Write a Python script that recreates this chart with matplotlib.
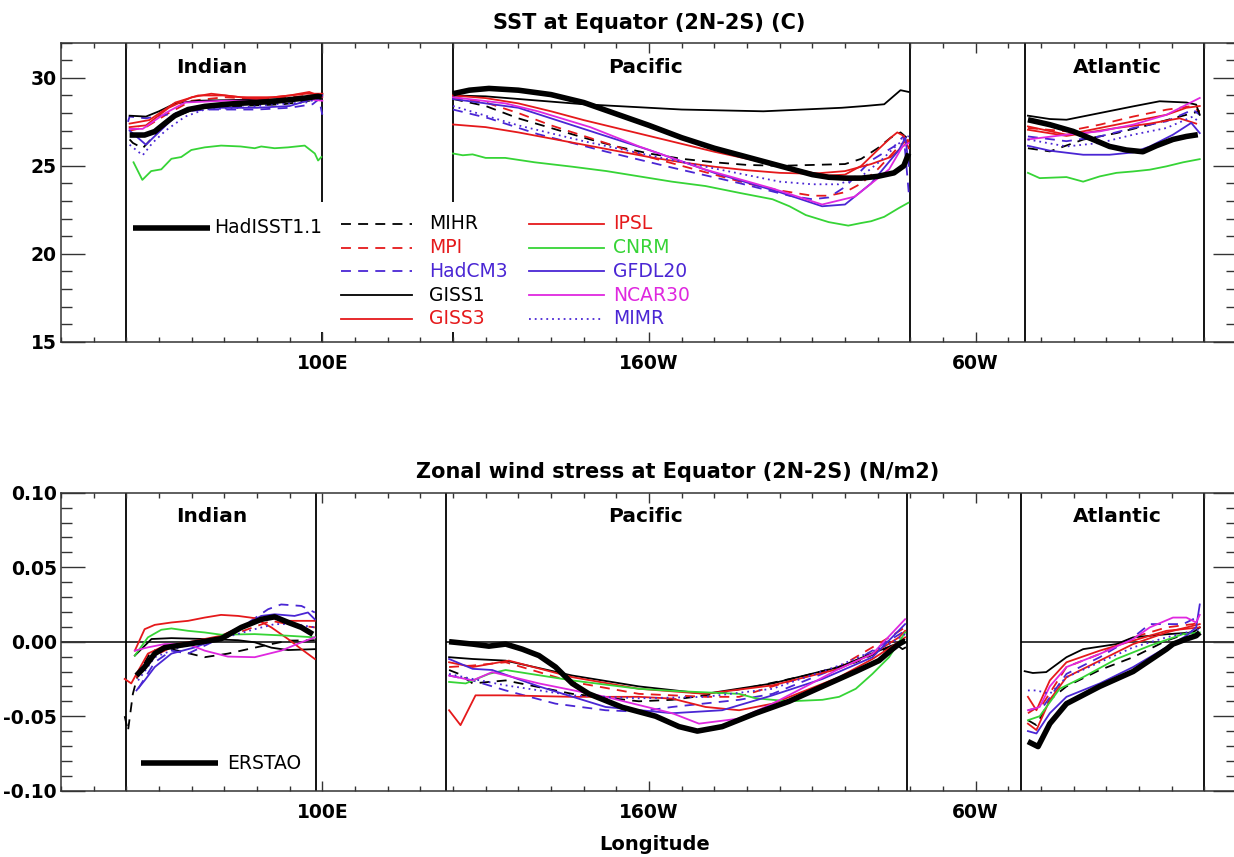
import matplotlib
matplotlib.use("Agg")
import matplotlib.pyplot as plt
import matplotlib.transforms as mtransforms
from matplotlib.ticker import MultipleLocator, FixedLocator
from matplotlib.patches import Rectangle

plt.rcParams['font.family'] = ['DejaVu Sans']

# ------------------------------------------------------------------ data
SST_BOUNDS = [40, 100, 140, 280, 315, 370]
TAU_BOUNDS = [40, 98, 138, 279, 314, 370]
TAU_ZERO_SEGMENTS = [(20, 98), (138, 279), (314, 380)]

XTICKS = [100, 200, 300]
XTICK_LABELS = ['100E', '160W', '60W']
SST_YTICKS = [15, 20, 25, 30]
SST_YTICK_LABELS = ['15', '20', '25', '30']
TAU_YTICKS = [-0.10, -0.05, 0.00, 0.05, 0.10]
TAU_YTICK_LABELS = ['-0.10', '-0.05', '0.00', '0.05', '0.10']

BASINS = ['Indian', 'Pacific', 'Atlantic']
BASIN_LABEL_LON = [66, 199, 343.5]

MODELS_COL1 = ['MIHR', 'MPI', 'HadCM3', 'GISS1', 'GISS3']
MODELS_COL2 = ['IPSL', 'CNRM', 'GFDL20', 'NCAR30', 'MIMR']

# SST (deg C): (longitudes, values)
SST_INDIAN = {
    'HadISST1.1': ([41, 45.6, 48.7, 51.7, 54.8, 58.9, 64, 69, 74.2, 79.3, 84.4, 89.5, 94.6, 98.7, 99.8],
                   [26.75, 26.75, 26.95, 27.4, 27.85, 28.2, 28.38, 28.47, 28.55, 28.6, 28.65, 28.75, 28.85, 28.95, 28.9]),
    'MIHR': ([41, 42, 45, 48, 51, 55, 62, 75, 88, 96, 100],
             [26.5, 26.3, 26.0, 26.6, 27.2, 27.8, 28.3, 28.4, 28.5, 28.7, 29.0]),
    'MPI': ([41, 46, 53, 60, 70, 80, 90, 97, 100],
            [27.0, 27.2, 28.0, 28.7, 28.9, 28.8, 28.9, 29.0, 28.5]),
    'HadCM3': ([40.5, 41, 46, 52, 58, 65, 80, 90, 97, 99, 100],
               [27.5, 27.8, 27.7, 27.9, 28.1, 28.2, 28.2, 28.3, 28.5, 28.8, 27.9]),
    'GISS1': ([41, 46, 50, 55, 62, 75, 90, 97, 100],
              [27.85, 27.8, 28.1, 28.55, 28.7, 28.75, 28.8, 28.9, 29.1]),
    'GISS3': ([41, 46, 53, 60, 66, 75, 85, 95, 100],
              [27.2, 27.3, 28.3, 28.9, 29.1, 28.9, 28.9, 29.1, 29.1]),
    'IPSL': ([41, 47, 55, 62, 70, 80, 90, 96, 100],
             [27.4, 27.6, 28.6, 29.0, 29.0, 28.8, 29.0, 29.2, 28.9]),
    'CNRM': ([42.2, 44.9, 47.6, 50.7, 53.8, 56.8, 59.9, 64, 69, 75, 79.3, 81.3, 85.4, 89.5, 94.6, 97.7, 98.7, 99.7],
             [25.2, 24.2, 24.7, 24.8, 25.4, 25.5, 25.9, 26.05, 26.15, 26.1, 26.0, 26.1, 26.0, 26.05, 26.15, 25.7, 25.3, 25.5]),
    'GFDL20': ([41, 46, 51, 56, 62, 80, 90, 97, 100],
               [27.0, 26.2, 27.1, 28.0, 28.3, 28.3, 28.4, 28.8, 29.0]),
    'NCAR30': ([41, 45, 52, 58, 70, 85, 95, 100],
               [27.1, 27.1, 28.0, 28.6, 28.7, 28.7, 28.8, 28.7]),
    'MIMR': ([41, 45, 48, 52, 58, 64, 75, 85, 95, 100],
             [26.2, 25.6, 26.3, 27.0, 27.8, 28.2, 28.3, 28.5, 28.6, 28.9]),
}

SST_PACIFIC = {
    'HadISST1.1': ([140, 145, 151, 160, 170, 180, 190, 200, 210, 220, 230, 240, 250, 255, 260, 265, 270, 275, 278, 279.5],
                   [29.1, 29.3, 29.4, 29.3, 29.05, 28.6, 27.95, 27.3, 26.6, 26.0, 25.5, 25.0, 24.5, 24.35, 24.3, 24.3, 24.4, 24.6, 25.0, 25.7]),
    'MIHR': ([140, 150, 160, 170, 180, 190, 200, 210, 220, 230, 240, 250, 260, 265, 270, 274, 277, 279.5],
             [28.8, 28.4, 27.7, 27.15, 26.6, 26.1, 25.7, 25.4, 25.2, 25.05, 25.0, 25.05, 25.1, 25.4, 26.0, 26.6, 26.9, 26.5]),
    'MPI': ([140, 150, 160, 170, 180, 190, 200, 210, 220, 230, 240, 250, 255, 260, 265, 270, 274, 277, 279.5],
            [28.9, 28.6, 28.0, 27.3, 26.7, 26.1, 25.5, 25.0, 24.5, 24.0, 23.6, 23.3, 23.3, 23.5, 24.0, 24.8, 25.6, 26.2, 26.5]),
    'HadCM3': ([140, 151, 166, 187, 207, 228, 243, 250, 255, 260, 268, 275, 278, 279.5],
               [28.2, 27.7, 26.8, 25.8, 24.9, 24.0, 23.3, 23.1, 23.2, 23.8, 25.3, 26.1, 26.7, 23.5]),
    'GISS1': ([140, 150, 160, 180, 200, 210, 235, 259, 266, 272, 277, 279.5],
              [29.0, 28.95, 28.8, 28.5, 28.3, 28.2, 28.1, 28.3, 28.4, 28.5, 29.3, 29.2]),
    'GISS3': ([140, 150, 160, 170, 180, 190, 200, 210, 220, 230, 240, 250, 260, 268, 274, 279.5],
              [27.35, 27.2, 26.9, 26.55, 26.2, 25.85, 25.5, 25.2, 24.95, 24.75, 24.6, 24.55, 24.7, 25.1, 25.5, 26.4]),
    'IPSL': ([140, 150, 160, 170, 180, 190, 200, 210, 220, 230, 240, 250, 255, 260, 265, 270, 274, 276, 278, 279.5],
             [29.0, 28.85, 28.55, 28.1, 27.6, 27.15, 26.7, 26.25, 25.8, 25.4, 25.0, 24.6, 24.45, 24.5, 25.0, 25.9, 26.6, 26.9, 26.7, 26.0]),
    'CNRM': ([140, 143, 146, 150, 156, 165, 176.5, 187, 197, 207, 217.3, 228, 237.8, 243, 248, 255, 261, 265, 268, 272, 276.5, 279.4],
             [25.7, 25.6, 25.65, 25.45, 25.45, 25.2, 24.95, 24.7, 24.4, 24.1, 23.85, 23.45, 23.1, 22.7, 22.2, 21.8, 21.6, 21.75, 21.85, 22.1, 22.6, 22.9]),
    'GFDL20': ([140, 160, 180, 200, 220, 240, 253, 260, 268, 276.5, 278.5, 279.5],
               [28.8, 28.3, 27.1, 25.9, 24.6, 23.5, 22.7, 22.8, 24.0, 25.9, 26.6, 25.0]),
    'NCAR30': ([140, 156, 166, 182, 197, 217, 238, 253, 263, 273.5, 277.6, 279.5],
               [28.9, 28.55, 28.1, 27.2, 26.1, 24.8, 23.7, 22.8, 23.25, 24.8, 26.1, 26.3]),
    'MIMR': ([140, 160, 180, 200, 220, 240, 250, 258, 265, 271, 276, 279.5],
             [28.4, 27.3, 26.4, 25.6, 24.85, 24.1, 23.95, 23.95, 24.4, 25.3, 26.2, 26.7]),
}

SST_ATLANTIC = {
    'HadISST1.1': ([316, 322.7, 329.8, 335.9, 341, 346.1, 351.2, 355.3, 360.4, 364.5, 368],
                   [27.62, 27.34, 26.96, 26.5, 26.1, 25.9, 25.8, 26.14, 26.5, 26.67, 26.77]),
    'GISS1': ([316, 322.7, 327.8, 338, 348.2, 356.3, 364.5, 367.5, 368.6],
              [27.85, 27.66, 27.62, 28.0, 28.38, 28.67, 28.6, 28.48, 27.9]),
    'MPI': ([316, 327.8, 338, 348.2, 358.4, 365.5, 368.6],
            [27.15, 26.96, 27.34, 27.8, 28.19, 28.38, 28.1]),
    'IPSL': ([316, 327.8, 338, 348.2, 358.4, 364.5, 368.6],
             [27.24, 26.77, 27.15, 27.53, 27.9, 28.3, 28.4]),
    'GISS3': ([316, 327.8, 343.1, 353.3, 362.4, 367.5],
              [27.05, 26.7, 27.15, 27.4, 27.7, 27.4]),
    'NCAR30': ([316, 327.8, 338, 348.2, 358.4, 368.6],
               [26.5, 26.77, 26.96, 27.34, 27.9, 28.86]),
    'HadCM3': ([316, 327.8, 338, 348.2, 358.4, 366.5, 368.6],
               [26.67, 26.4, 26.67, 27.15, 27.53, 28.19, 27.9]),
    'MIHR': ([316, 322.7, 332.9, 343.1, 353.3, 364.5, 368.6],
             [26.0, 25.82, 26.49, 26.86, 27.34, 27.9, 28.1]),
    'MIMR': ([316, 327.8, 338, 348.2, 358.4, 366.5, 368.6],
             [26.5, 26.1, 26.3, 26.77, 27.15, 27.8, 27.44]),
    'GFDL20': ([316, 322.7, 332.9, 341, 348.2, 353.3, 360.4, 366, 368.6],
               [26.14, 25.86, 25.63, 25.63, 25.76, 26.1, 26.77, 27.44, 26.86]),
    'CNRM': ([316, 319.6, 327.8, 332.9, 338, 343.1, 348.2, 353.3, 358.4, 363.5, 368.6],
             [24.6, 24.3, 24.36, 24.1, 24.4, 24.6, 24.68, 24.78, 24.97, 25.2, 25.38]),
}

# Zonal wind stress (N/m2): (longitudes, values)
TAU_INDIAN = {
    'ERSTAO': ([43.1, 45.6, 48.7, 51.7, 58.9, 69, 75.2, 81.3, 85.4, 89.5, 93.6, 97.1],
               [-0.0227, -0.017, -0.008, -0.004, -0.0016, 0.002, 0.0096, 0.015, 0.0167, 0.013, 0.0096, 0.005]),
    'GISS1': ([42.6, 47.7, 53.8, 64, 74.2, 79.3, 84.4, 89.5, 97.7],
              [-0.0093, 0.0018, 0.0024, 0.0018, 0.001, -0.0004, -0.004, -0.0056, -0.005]),
    'MIHR': ([39.5, 40.5, 42, 43.6, 47.7, 53.8, 64, 71.1, 77.2, 84.4, 89.5, 97.7],
             [-0.05, -0.06, -0.035, -0.0216, -0.006, -0.005, -0.0104, -0.008, -0.005, -0.0016, 0.0007, 0.001]),
    'IPSL': ([42.6, 45.6, 48.7, 53.8, 58.9, 64, 69, 74.2, 79.3, 84.4, 89.5, 93.6, 97.7],
             [-0.006, 0.0084, 0.0113, 0.0129, 0.014, 0.0162, 0.018, 0.0173, 0.0158, 0.0096, 0.0018, -0.005, -0.0116]),
    'GISS3': ([39.5, 41.5, 43.1, 46.6, 51.7, 58.9, 69, 77.2, 83.4, 89.5, 97.7],
              [-0.025, -0.028, -0.0216, -0.008, -0.0027, -0.0004, 0.004, 0.0118, 0.0162, 0.014, 0.014]),
    'MPI': ([43.1, 47.7, 53.8, 64, 74.2, 84.4, 89.5, 97.7],
            [-0.024, -0.0104, -0.0038, 0.0007, 0.006, 0.014, 0.0118, 0.0096]),
    'CNRM': ([42.6, 46.6, 50.7, 53.8, 58.9, 64, 69, 79.3, 89.5, 97.7],
             [-0.0093, 0.0029, 0.008, 0.0089, 0.0073, 0.0062, 0.0047, 0.0051, 0.004, 0.0029]),
    'NCAR30': ([42.6, 46.6, 51.7, 58.9, 64, 71.1, 79.3, 87.4, 93.6, 97.7],
               [-0.006, -0.0038, -0.0016, -0.0016, -0.006, -0.01, -0.0104, -0.006, -0.0004, 0.0029]),
    'GFDL20': ([43.1, 45.6, 48.7, 53.8, 61, 69, 75.2, 81.3, 85.4, 91.5, 95.6, 97.7],
               [-0.0327, -0.026, -0.017, -0.008, -0.0038, 0.0029, 0.0096, 0.0173, 0.0184, 0.0173, 0.0196, 0.015]),
    'HadCM3': ([43.6, 48.7, 53.8, 58.9, 65, 75.2, 83.4, 87.4, 93.6, 97.7],
               [-0.0316, -0.0138, -0.006, -0.008, -0.0016, 0.0096, 0.0218, 0.025, 0.024, 0.0196]),
    'MIMR': ([43.6, 48.7, 58.9, 69, 79.3, 85.4, 91.5, 97.7],
             [-0.026, -0.0104, -0.0016, 0.002, 0.0084, 0.0118, 0.0118, 0.0096]),
}

TAU_PACIFIC = {
    'ERSTAO': ([138.8, 146, 151, 156.1, 161.2, 166.3, 171.4, 176.5, 181.6, 191.8, 202, 209.2, 214.8, 222.4, 232.7, 242.9, 253.1, 263.3, 270.4, 274.5, 276.5, 278.4],
               [0.0, -0.0016, -0.003, -0.0016, -0.005, -0.0093, -0.017, -0.028, -0.035, -0.044, -0.05, -0.057, -0.06, -0.057, -0.048, -0.04, -0.030, -0.02, -0.0127, -0.005, -0.0016, 0.0007]),
    'GISS1': ([138.8, 146, 156.1, 176.5, 196.9, 217.3, 237.8, 258.2, 270.4, 275.5, 277.6, 278.4],
              [-0.0104, -0.0116, -0.0127, -0.0227, -0.030, -0.035, -0.028, -0.017, -0.006, -0.0016, -0.005, -0.004]),
    'MIHR': ([138.8, 141.8, 146, 156.1, 176.5, 196.9, 207.1, 217.3, 232.7, 248, 263.3, 273.5, 278.4],
             [-0.019, -0.0216, -0.028, -0.026, -0.035, -0.040, -0.039, -0.036, -0.030, -0.0227, -0.0138, -0.0038, 0.0018]),
    'IPSL': ([138.8, 142.3, 146.9, 156.1, 176.5, 196.9, 207.1, 217.3, 227.6, 237.8, 248, 258.2, 268.4, 275.5, 278.4],
             [-0.046, -0.056, -0.036, -0.036, -0.037, -0.037, -0.0382, -0.0438, -0.046, -0.0416, -0.0327, -0.0238, -0.0116, -0.0016, 0.0029]),
    'GISS3': ([138.8, 146, 157.1, 176.5, 196.9, 217.3, 237.8, 258.2, 268.4, 276.5, 278.4],
              [-0.0138, -0.017, -0.0127, -0.0238, -0.0316, -0.035, -0.0293, -0.0182, -0.0082, 0.0029, 0.0073]),
    'MPI': ([138.8, 146, 156.1, 176.5, 196.9, 217.3, 227.6, 237.8, 258.2, 273.5, 278.4],
            [-0.017, -0.016, -0.0138, -0.027, -0.035, -0.037, -0.037, -0.030, -0.017, 0.0029, 0.0096]),
    'CNRM': ([138.8, 143.9, 151, 156.1, 176.5, 196.9, 207.1, 217.3, 227.6, 232.7, 242.9, 253.1, 258.2, 263.3, 268.4, 273.5, 278.4],
             [-0.027, -0.028, -0.0216, -0.019, -0.026, -0.0316, -0.033, -0.034, -0.035, -0.038, -0.040, -0.039, -0.037, -0.0316, -0.0216, -0.0104, 0.0062]),
    'NCAR30': ([138.8, 146, 152, 166.3, 186.7, 207.1, 215.3, 227.6, 237.8, 248, 258.2, 268.4, 278.4],
               [-0.0227, -0.026, -0.0204, -0.028, -0.037, -0.048, -0.055, -0.0516, -0.0416, -0.030, -0.0182, -0.0082, 0.0151]),
    'GFDL20': ([138.8, 146, 152, 166.3, 186.7, 207.1, 222.4, 237.8, 253.1, 268.4, 278.4],
               [-0.0116, -0.0182, -0.019, -0.030, -0.0438, -0.048, -0.046, -0.036, -0.025, -0.0104, 0.0118]),
    'HadCM3': ([138.8, 146, 156.1, 171.4, 186.7, 196.9, 207.1, 227.6, 237.8, 248, 263.3, 278.4],
               [-0.0227, -0.026, -0.0327, -0.0416, -0.046, -0.047, -0.0438, -0.039, -0.035, -0.026, -0.0127, 0.0073]),
    'MIMR': ([138.8, 146, 156.1, 176.5, 196.9, 217.3, 237.8, 258.2, 273.5, 278.4],
             [-0.0216, -0.025, -0.0293, -0.036, -0.038, -0.037, -0.0316, -0.016, -0.0016, 0.0051]),
}

TAU_ATLANTIC = {
    'ERSTAO': ([316, 319.1, 322.7, 327.8, 338, 348.2, 358.4, 360.4, 364.5, 367.5, 368.6],
               [-0.067, -0.0704, -0.055, -0.0416, -0.030, -0.020, -0.005, -0.0016, 0.0018, 0.004, 0.0062]),
    'GISS1': ([315, 317.5, 321.6, 327.8, 332.9, 343.1, 348.2, 358.4, 366.5, 368.6],
              [-0.0198, -0.021, -0.0204, -0.0104, -0.005, -0.0016, 0.0029, 0.005, 0.0062, 0.0096]),
    'GFDL20': ([316, 318.6, 322.7, 327.8, 338, 348.2, 358.4, 364.5, 367.5, 368.6],
               [-0.060, -0.0616, -0.048, -0.037, -0.028, -0.017, -0.0038, 0.004, 0.0096, 0.025]),
    'CNRM': ([316, 319.6, 325.7, 332.9, 343.1, 353.3, 363.5, 368.6],
             [-0.0527, -0.050, -0.0316, -0.0238, -0.0116, -0.0027, 0.0051, 0.0062]),
    'NCAR30': ([316, 319.6, 322.7, 327.8, 338, 348.2, 353.3, 360.4, 364.5, 367.5, 368.6],
               [-0.046, -0.0438, -0.030, -0.017, -0.0082, 0.0018, 0.0096, 0.0162, 0.0162, 0.0129, 0.018]),
    'IPSL': ([316, 318.6, 322.7, 327.8, 338, 348.2, 358.4, 368.6],
             [-0.037, -0.046, -0.026, -0.0138, -0.006, 0.0007, 0.0073, 0.0096]),
    'GISS3': ([316, 318.6, 322.7, 327.8, 338, 348.2, 358.4, 368.6],
              [-0.055, -0.0593, -0.039, -0.0238, -0.0127, -0.0016, 0.0062, 0.0118]),
    'MPI': ([316, 320.6, 327.8, 338, 348.2, 358.4, 366.5, 368.6],
            [-0.048, -0.0416, -0.017, -0.0082, 0.0029, 0.0096, 0.0118, 0.013]),
    'MIHR': ([316, 318.6, 322.7, 327.8, 338, 348.2, 358.4, 368.6],
             [-0.0527, -0.056, -0.039, -0.030, -0.019, -0.0104, 0.0007, 0.0084]),
    'HadCM3': ([316, 320.6, 327.8, 338, 348.2, 353.3, 363.5, 368.6],
               [-0.046, -0.0438, -0.0216, -0.0104, 0.0029, 0.0118, 0.0118, 0.0173]),
    'MIMR': ([316, 318.6, 322.7, 327.8, 338, 348.2, 358.4, 368.6],
             [-0.0327, -0.0327, -0.035, -0.0238, -0.0138, -0.0038, 0.0029, 0.0084]),
}

# ------------------------------------------------------------------ styles
RED = '#e5191b'
BLUE = '#4a26d4'
GREEN = '#36d436'
MAGENTA = '#df28df'
LS = {'dash': (0, (5.5, 4)), 'solid': '-', 'dot': (0, (1, 2.2))}
STYLE = {
    'MIHR': ('black', 'dash'), 'MPI': (RED, 'dash'), 'HadCM3': (BLUE, 'dash'),
    'GISS1': ('black', 'solid'), 'GISS3': (RED, 'solid'), 'IPSL': (RED, 'solid'),
    'CNRM': (GREEN, 'solid'), 'GFDL20': (BLUE, 'solid'), 'NCAR30': (MAGENTA, 'solid'),
    'MIMR': (BLUE, 'dot'),
}
THIN = 1.3
THICK = 4.0
TICKFS = 13.5

FW, FH = 1234, 857
fig = plt.figure(figsize=(FW / 100, FH / 100), dpi=100)
ax1 = fig.add_axes([61 / FW, 1 - 341.7 / FH, 1176 / FW, 299 / FH])
ax2 = fig.add_axes([61 / FW, 1 - 790.7 / FH, 1176 / FW, 298 / FH])


def setup(ax, ylim, yticks, ylabels, yminor):
    ax.set_xlim(20, 380)
    ax.set_ylim(*ylim)
    ax.xaxis.set_major_locator(FixedLocator(XTICKS))
    ax.set_xticklabels(XTICK_LABELS, fontweight='bold', fontsize=TICKFS)
    ax.xaxis.set_minor_locator(MultipleLocator(10))
    ax.set_yticks(yticks)
    ax.set_yticklabels(ylabels, fontweight='bold', fontsize=TICKFS)
    ax.yaxis.set_minor_locator(MultipleLocator(yminor))
    ax.tick_params(which='both', direction='in', top=True, right=True,
                   width=1.0, color='#333333')
    ax.tick_params(axis='x', which='major', length=7.2, pad=9)
    ax.tick_params(axis='x', which='minor', length=3.6)
    ax.tick_params(axis='y', which='major', length=17.3, pad=3)
    ax.tick_params(axis='y', which='minor', length=7.9)
    for sp in ax.spines.values():
        sp.set_color('#333333')
        sp.set_linewidth(1.1)


def draw_series(ax, data, obs_name):
    for name in MODELS_COL1 + MODELS_COL2:
        lon, val = data[name]
        color, ls = STYLE[name]
        ax.plot(lon, val, color=color, linestyle=LS[ls], lw=THIN, zorder=3)
    lon, val = data[obs_name]
    ax.plot(lon, val, color='black', lw=THICK, zorder=4, solid_capstyle='butt')


def basin_labels(ax):
    tr = mtransforms.blended_transform_factory(ax.transData, ax.transAxes)
    for name, lon in zip(BASINS, BASIN_LABEL_LON):
        ax.text(lon, 0.90, name, transform=tr, ha='center', va='baseline',
                fontsize=14.5, fontweight='bold')


# ---------------- top panel: SST
setup(ax1, (15, 32), SST_YTICKS, SST_YTICK_LABELS, 1)
ax1.vlines(SST_BOUNDS, 15, 32, color='black', lw=1.3, zorder=1.5)
for d in (SST_INDIAN, SST_PACIFIC, SST_ATLANTIC):
    draw_series(ax1, d, 'HadISST1.1')
basin_labels(ax1)

T1 = ax1.transAxes
ax1.add_patch(Rectangle((0.0587, 0.0324), 0.4673, 0.4356, transform=T1,
                        facecolor='white', edgecolor='none', zorder=1.8))
ax1.plot([0.0612, 0.1267], [0.3813, 0.3813], transform=T1, color='black',
         lw=THICK, solid_capstyle='butt', zorder=5)
ax1.text(0.1299, 0.3813, 'HadISST1.1', transform=T1, ha='left', va='center',
         fontsize=13.5, zorder=5)
ROWS = [0.394, 0.314, 0.236, 0.155, 0.076]
for names, x0, x1, xt in ((MODELS_COL1, 0.2381, 0.2985, 0.3129),
                          (MODELS_COL2, 0.3980, 0.4617, 0.4694)):
    for name, yr in zip(names, ROWS):
        color, ls = STYLE[name]
        ax1.plot([x0, x1], [yr, yr], transform=T1, color=color,
                 linestyle=LS[ls], lw=THIN, zorder=5)
        ax1.text(xt, yr, name, transform=T1, ha='left', va='center',
                 color=color, fontsize=13.5, zorder=5)

# ---------------- bottom panel: wind stress
setup(ax2, (-0.10, 0.10), TAU_YTICKS, TAU_YTICK_LABELS, 0.01)
ax2.vlines(TAU_BOUNDS, -0.10, 0.10, color='black', lw=1.3, zorder=1.5)
for a, b in TAU_ZERO_SEGMENTS:
    ax2.hlines(0.0, a, b, color='black', lw=1.1, zorder=1.5)
for d in (TAU_INDIAN, TAU_PACIFIC, TAU_ATLANTIC):
    draw_series(ax2, d, 'ERSTAO')
basin_labels(ax2)

T2 = ax2.transAxes
ax2.plot([0.068, 0.1335], [0.092, 0.092], transform=T2, color='black',
         lw=THICK, solid_capstyle='butt', zorder=5)
ax2.text(0.1411, 0.092, 'ERSTAO', transform=T2, ha='left', va='center',
         fontsize=13.5, zorder=5)

# ---------------- titles
fig.text(649 / FW, 1 - 29 / FH, 'SST at Equator (2N-2S) (C)', ha='center',
         va='baseline', fontsize=15, fontweight='bold')
fig.text(678 / FW, 1 - 478 / FH, 'Zonal wind stress at Equator (2N-2S) (N/m2)',
         ha='center', va='baseline', fontsize=15, fontweight='bold')
fig.text(655 / FW, 1 - 850 / FH, 'Longitude', ha='center', va='baseline',
         fontsize=14, fontweight='bold')

fig.savefig('out.png', dpi=100)
